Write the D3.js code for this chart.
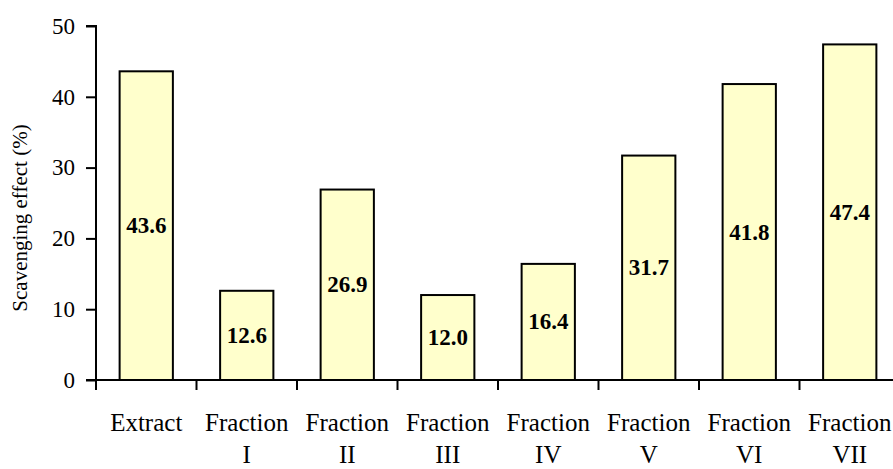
<!DOCTYPE html>
<html>
<head>
<meta charset="utf-8">
<script src="https://cdn.jsdelivr.net/npm/d3@7"></script>
<style>
  html, body { margin: 0; padding: 0; background: #fff; }
  svg { display: block; }
</style>
</head>
<body>
<svg id="chart" width="893" height="469"></svg>
<script>
// Scavenging effect of the extract and its fractions
const categories = ["Extract", "Fraction I", "Fraction II", "Fraction III", "Fraction IV", "Fraction V", "Fraction VI", "Fraction VII"];
const labelLines = [["Extract"], ["Fraction", "I"], ["Fraction", "II"], ["Fraction", "III"], ["Fraction", "IV"], ["Fraction", "V"], ["Fraction", "VI"], ["Fraction", "VII"]];
const values = [43.6, 12.6, 26.9, 12.0, 16.4, 31.7, 41.8, 47.4];
const yTicks = [0, 10, 20, 30, 40, 50];
const yTitle = "Scavenging effect (%)";

const FONT = "'Liberation Serif', 'Times New Roman', serif";
const svg = d3.select("#chart");
const plotLeft = 96, plotRight = 900, plotTop = 26, plotBottom = 380;

const x = d3.scaleBand()
  .domain(categories)
  .range([plotLeft, plotRight])
  .paddingInner(0.47)
  .paddingOuter(0.235);

const y = d3.scaleLinear().domain([0, 50]).range([plotBottom, plotTop]);

// bars
svg.append("g").selectAll("rect")
  .data(categories)
  .join("rect")
  .attr("x", d => x(d))
  .attr("y", (d, i) => y(values[i]))
  .attr("width", x.bandwidth())
  .attr("height", (d, i) => y(0) - y(values[i]))
  .attr("fill", "#FFFFCC")
  .attr("stroke", "#000")
  .attr("stroke-width", 2);

// value labels centred in each bar
svg.append("g").selectAll("text")
  .data(categories)
  .join("text")
  .attr("x", d => x(d) + x.bandwidth() / 2)
  .attr("y", (d, i) => (y(values[i]) + y(0)) / 2)
  .attr("text-anchor", "middle")
  .attr("dominant-baseline", "central")
  .style("font-family", FONT)
  .style("font-weight", "bold")
  .style("font-size", "23px")
  .attr("fill", "#000")
  .text((d, i) => values[i].toFixed(1));

// y axis
const yAxis = svg.append("g")
  .attr("transform", `translate(${plotLeft},0)`)
  .call(d3.axisLeft(y).tickValues(yTicks).tickSize(10).tickPadding(11).tickFormat(d3.format("d")));
yAxis.selectAll("path, line").attr("stroke", "#000").attr("stroke-width", 2);
yAxis.select(".domain").attr("d", `M-10,${plotTop}H0V${plotBottom}`);
yAxis.selectAll("text")
  .style("font-family", FONT)
  .style("font-size", "23px")
  .attr("fill", "#000");

// x axis with ticks between categories
const xAxis = svg.append("g")
  .attr("transform", `translate(0,${plotBottom})`);
xAxis.append("line")
  .attr("x1", plotLeft - 10).attr("x2", plotRight)
  .attr("stroke", "#000").attr("stroke-width", 2);
const gap = (x.step() - x.bandwidth()) / 2;
const boundaries = categories.map(d => x(d) - gap);
xAxis.selectAll("line.tick")
  .data(boundaries)
  .join("line")
  .attr("class", "tick")
  .attr("x1", d => d).attr("x2", d => d)
  .attr("y1", 0).attr("y2", 10)
  .attr("stroke", "#000").attr("stroke-width", 2);

// category labels (two lines)
const lab = xAxis.selectAll("text.cat")
  .data(categories)
  .join("text")
  .attr("class", "cat")
  .attr("text-anchor", "middle")
  .style("font-family", FONT)
  .style("font-size", "25px")
  .attr("fill", "#000")
  .attr("transform", d => `translate(${x(d) + x.bandwidth() / 2},0)`);
lab.selectAll("tspan")
  .data((d, i) => labelLines[i])
  .join("tspan")
  .attr("x", 0)
  .attr("y", (d, j) => 51 + j * 32)
  .text(d => d);

// y axis title
svg.append("text")
  .attr("transform", `translate(27,${(plotTop + plotBottom) / 2 + 15}) rotate(-90)`)
  .attr("text-anchor", "middle")
  .style("font-family", FONT)
  .style("font-size", "21px")
  .attr("fill", "#000")
  .text(yTitle);
</script>
</body>
</html>
